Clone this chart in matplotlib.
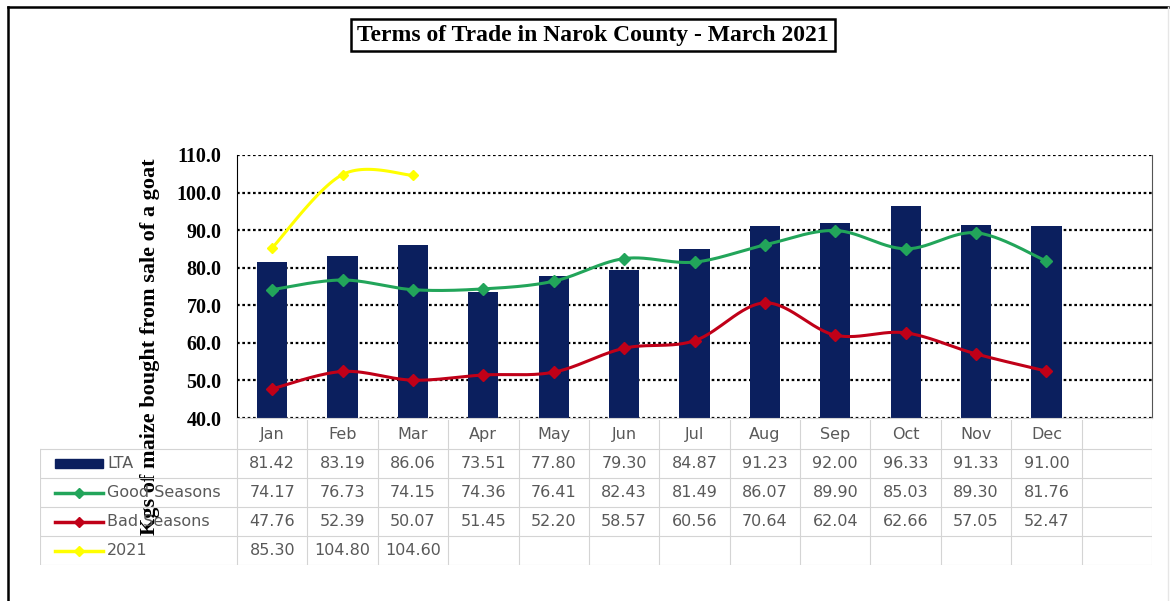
import numpy as np
import matplotlib.pyplot as plt
from matplotlib.patches import Rectangle
from matplotlib.lines import Line2D

months = ["Jan", "Feb", "Mar", "Apr", "May", "Jun", "Jul", "Aug", "Sep", "Oct", "Nov", "Dec"]
lta = [81.42, 83.19, 86.06, 73.51, 77.80, 79.30, 84.87, 91.23, 92.00, 96.33, 91.33, 91.00]
good = [74.17, 76.73, 74.15, 74.36, 76.41, 82.43, 81.49, 86.07, 89.90, 85.03, 89.30, 81.76]
bad = [47.76, 52.39, 50.07, 51.45, 52.20, 58.57, 60.56, 70.64, 62.04, 62.66, 57.05, 52.47]
y2021 = [85.30, 104.80, 104.60]

navy = "#0b1f5e"
green = "#22a55a"
red = "#c00018"
yellow = "#ffff00"
grey_txt = "#595959"
grid_grey = "#d4d4d4"


def smooth(y, n=30):
    # catmull-rom curve through the points, like excel's smoothed lines
    y = np.asarray(y, float)
    x = np.arange(len(y), dtype=float)
    pts = np.vstack([np.r_[x[0], x, x[-1]], np.r_[y[0], y, y[-1]]]).T
    out = []
    for i in range(1, len(pts) - 2):
        p0, p1, p2, p3 = pts[i - 1], pts[i], pts[i + 1], pts[i + 2]
        t = np.linspace(0, 1, n)[:, None]
        seg = 0.5 * ((2 * p1) + (-p0 + p2) * t + (2 * p0 - 5 * p1 + 4 * p2 - p3) * t ** 2
                     + (-p0 + 3 * p1 - 3 * p2 + p3) * t ** 3)
        out.append(seg)
    out = np.vstack(out)
    return out[:, 0], out[:, 1]


W, H = 1175, 601
fig = plt.figure(figsize=(W / 100, H / 100), dpi=100)
fig.patch.set_facecolor("white")

# outer frame
fig.add_artist(Line2D([8 / W, 8 / W], [0, 1 - 7 / H], transform=fig.transFigure, color="black", lw=1.8))
fig.add_artist(Line2D([8 / W, 1168 / W], [1 - 7 / H, 1 - 7 / H], transform=fig.transFigure, color="black", lw=1.8))
fig.add_artist(Line2D([1168 / W, 1168 / W], [0, 1 - 7 / H], transform=fig.transFigure, color="#e6e6e6", lw=1))

# chart area
x0, x1, ytop, ybot = 237, 1152, 155, 418
ax = fig.add_axes([x0 / W, 1 - ybot / H, (x1 - x0) / W, (ybot - ytop) / H])
x = np.arange(len(months))
ax.bar(x, lta, width=0.43, color=navy, zorder=2)

for vals, col in [(good, green), (bad, red)]:
    sx, sy = smooth(vals)
    ax.plot(sx, sy, color=col, lw=2.2, zorder=3)
    ax.plot(x, vals, ls="none", marker="D", ms=6, color=col, zorder=4)
sx, sy = smooth(y2021)
ax.plot(sx, sy, color=yellow, lw=2.2, zorder=3)
ax.plot(np.arange(len(y2021)), y2021, ls="none", marker="D", ms=5, color=yellow, zorder=4)

ax.set_xlim(-0.5, 12.5)
ax.set_ylim(40, 110)
ax.set_yticks(np.arange(40, 111, 10))
ax.set_yticklabels([f"{v:.1f}" for v in np.arange(40, 111, 10)],
                   fontfamily="Liberation Serif", fontweight="bold", fontsize=14.5)
ax.set_xticks([])
ax.tick_params(axis="y", length=0, pad=11)
ax.yaxis.grid(True, color="black", linestyle=(0, (1.2, 1.2)), lw=1.6, zorder=1)
ax.spines["top"].set_visible(False)
ax.spines["left"].set_color("black")
ax.spines["right"].set_color("#555555")
ax.spines["bottom"].set_color(grid_grey)
ax.set_ylabel("Kgs of maize bought from sale of a goat", fontfamily="Liberation Serif",
              fontweight="bold", fontsize=16)
ax.yaxis.set_label_coords(-0.084, 0.27)

# title in a box
fig.text(593 / W, 1 - 35 / H, "Terms of Trade in Narok County - March 2021",
         ha="center", va="center", fontfamily="Liberation Serif", fontweight="bold", fontsize=17,
         bbox=dict(boxstyle="square,pad=0.25", fc="white", ec="black", lw=1.8))

# data table below the chart
tleft, ttop, tbot = 40, 420, 565
slot = (x1 - x0) / 13
xl = -0.5 - (x0 - tleft) / slot
tax = fig.add_axes([tleft / W, 1 - tbot / H, (x1 - tleft) / W, (tbot - ttop) / H])
tax.set_xlim(xl, 12.5)
tax.set_ylim(5, 0)
tax.axis("off")

rows = [("LTA", lta, navy), ("Good Seasons", good, green), ("Bad Seasons", bad, red), ("2021", y2021, yellow)]
for b in np.arange(-0.5, 13, 1):
    tax.plot([b, b], [0, 5], color=grid_grey, lw=0.8)
tax.plot([xl, xl], [1, 5], color=grid_grey, lw=0.8)
for r in range(1, 6):
    tax.plot([xl, 12.5], [r, r], color=grid_grey, lw=0.8)

tfont = dict(color=grey_txt, fontfamily="DejaVu Sans", fontsize=11.5)
for i, m in enumerate(months):
    tax.text(i, 0.5, m, ha="center", va="center", **tfont)

key_a, key_b = xl + 15 / slot, xl + 63 / slot
for r, (name, vals, col) in enumerate(rows, start=1):
    yc = r + 0.5
    if name == "LTA":
        tax.add_patch(Rectangle((key_a, yc - 0.16), key_b - key_a, 0.32, color=col))
    else:
        tax.plot([key_a, key_b], [yc, yc], color=col, lw=2.5)
        tax.plot([(key_a + key_b) / 2], [yc], marker="D", ms=5, color=col)
    tax.text(xl + 67 / slot, yc, name, ha="left", va="center", **tfont)
    for i, v in enumerate(vals):
        tax.text(i, yc, f"{v:.2f}", ha="center", va="center", **tfont)

fig.savefig("out.png", dpi=100)
